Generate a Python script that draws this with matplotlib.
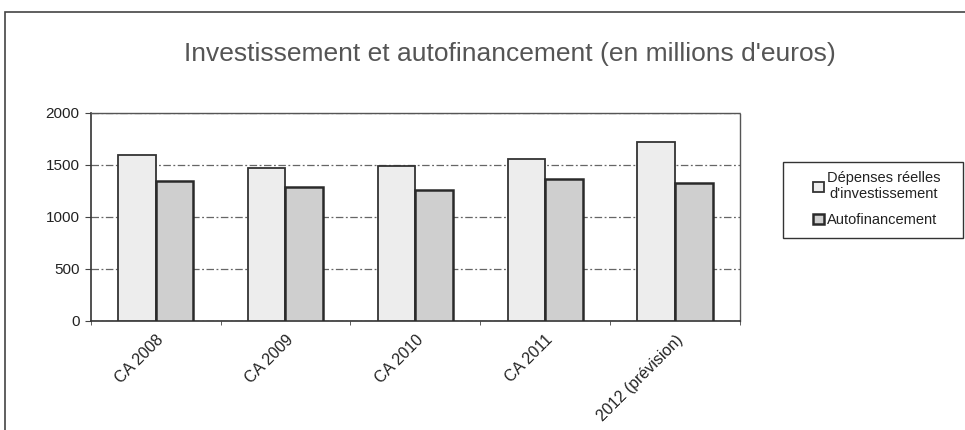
import matplotlib
matplotlib.use("Agg")
import matplotlib.pyplot as plt
import numpy as np
from matplotlib.patches import Rectangle

categories = ["CA 2008", "CA 2009", "CA 2010", "CA 2011", "2012 (prévision)"]
depenses = [1590, 1468, 1484, 1555, 1715]
autofin = [1349, 1291, 1260, 1365, 1324]
series_names = ["Dépenses réelles\nd'investissement", "Autofinancement"]
yticks = [0, 500, 1000, 1500, 2000]

plt.rcParams['font.family'] = ['Liberation Sans', 'DejaVu Sans']

fig = plt.figure(figsize=(9.65, 4.3), dpi=100)
fig.patch.set_facecolor("white")

# outer chart frame
fig.add_artist(Rectangle((5/965, -0.05), 1.0, (430-12)/430 + 0.05, transform=fig.transFigure,
                         fill=False, edgecolor="#444444", linewidth=1.2))

ax = fig.add_axes([90.7/965, (430-321)/430, (740-90.7)/965, (321-112.7)/430])
x = np.arange(len(categories))
w = 0.29
ax.bar(x - w/2, depenses, w, color="#ededed", edgecolor="#333333", linewidth=1.3, label=series_names[0], zorder=3)
ax.bar(x + w/2, autofin, w, color="#cfcfcf", edgecolor="#2a2a2a", linewidth=1.8, label=series_names[1], zorder=3)

ax.set_xlim(-0.5, len(categories) - 0.5)
ax.set_ylim(0, 2000)
ax.set_yticks(yticks)
ax.set_yticklabels([str(v) for v in yticks], fontsize=11, color="#222222")
ax.yaxis.grid(True, linestyle=(0, (6, 2, 1.5, 2)), color="#666666", linewidth=0.9, zorder=0)
ax.set_xticks(np.arange(len(categories) + 1) - 0.5, minor=True)
ax.set_xticks(x)
ax.set_xticklabels(categories, rotation=45, ha="right", rotation_mode="anchor", fontsize=11.5, color="#222222")
ax.tick_params(axis="x", which="major", length=0, pad=8)
ax.tick_params(axis="x", which="minor", length=3, color="#444444")
ax.tick_params(axis="y", length=4, color="#444444", pad=4)

for side in ["top", "right"]:
    ax.spines[side].set_linestyle((0, (1, 1)))
    ax.spines[side].set_color("#555555")
    ax.spines[side].set_linewidth(1.0)
for side in ["left", "bottom"]:
    ax.spines[side].set_color("#333333")
    ax.spines[side].set_linewidth(1.2)

fig.text(510/965, 1 - 54/430, "Investissement et autofinancement (en millions d'euros)",
         ha="center", va="center", fontsize=19, color="#555555")

# legend frame
fig.add_artist(Rectangle((783/965, 1 - 238/430), (963 - 783)/965, (238 - 162)/430,
                         transform=fig.transFigure, fill=False, edgecolor="#333333", linewidth=1.0))
leg = fig.legend(loc="upper left", bbox_to_anchor=(806/965, 1 - 164/430), fontsize=10.5,
                 frameon=False, handlelength=0.7, handleheight=0.7, handletextpad=0.25,
                 labelspacing=0.8, borderpad=0)
for t in leg.get_texts():
    t.set_color("#222222")
    t.set_multialignment("center")

fig.savefig("out.png", dpi=100, facecolor="white")
